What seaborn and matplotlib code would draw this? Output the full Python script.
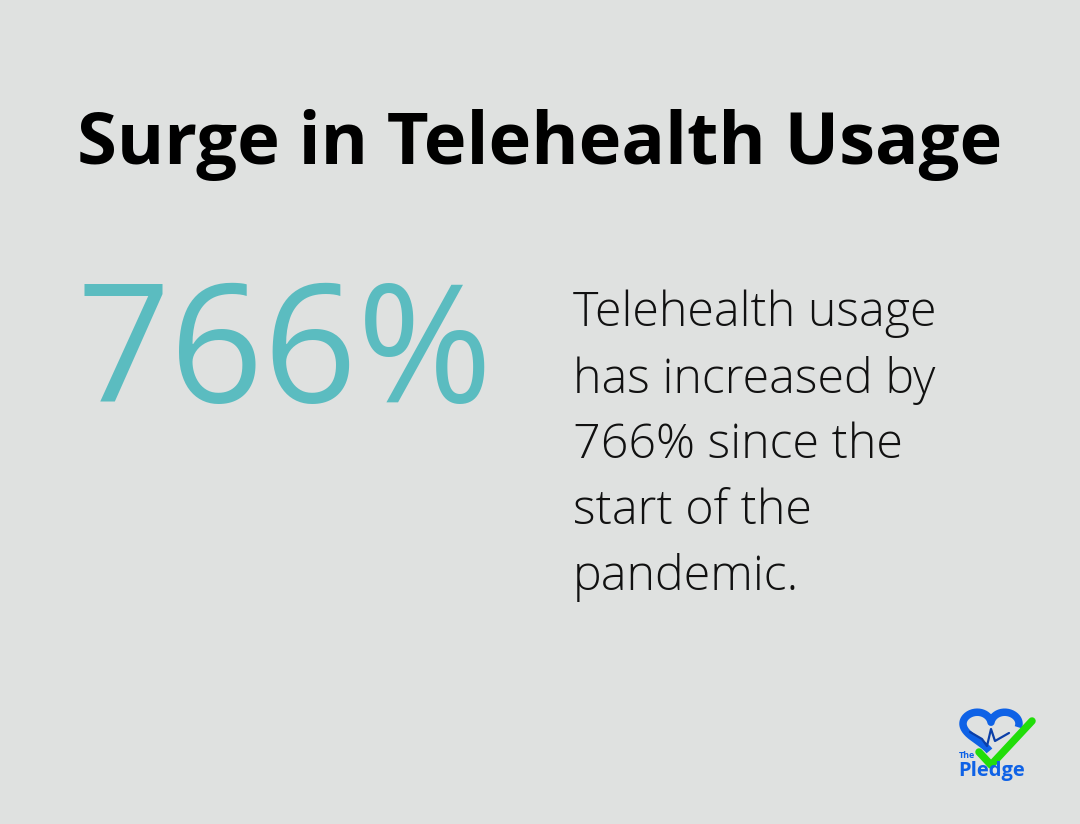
import matplotlib
matplotlib.use("Agg")
import matplotlib.pyplot as plt
import numpy as np
import seaborn as sns

BG = "#dfe1e0"
TEAL = "#5bbcc0"
BLUE = "#0f62e6"
GREEN = "#22dd0a"

title_text = "Surge in Telehealth Usage"
big_number = "766%"
body_lines = ["Telehealth usage", "has increased by", "766% since the", "start of the", "pandemic."]

sns.set_theme(style="white")
plt.rcParams["font.family"] = ["Open Sans", "DejaVu Sans"]

fig = plt.figure(figsize=(10.8, 8.24), dpi=100, facecolor=BG)
ax = fig.add_axes([0, 0, 1, 1])
ax.set_xlim(0, 1080)
ax.set_ylim(824, 0)
ax.axis("off")

ax.text(540, 145, title_text, ha="center", va="center", fontsize=52, fontweight="bold", color="black")
ax.text(285, 359, big_number, ha="center", va="center", fontsize=118, fontweight="normal", color=TEAL)

for i, line in enumerate(body_lines):
    ax.text(573, 314 + i * 66, line, ha="left", va="center", fontsize=34.8, fontweight="light", color="#111111")

# logo, heart is left open where the check crosses it
t = np.linspace(-2.75, 1.7, 200)
hx = 991 + 1.75 * 16 * np.sin(t) ** 3
hy = 729.5 - 1.45 * (13 * np.cos(t) - 5 * np.cos(2 * t) - 2 * np.cos(3 * t) - np.cos(4 * t))
ax.plot(hx, hy, color=BLUE, lw=5.4, solid_capstyle="butt")
ax.plot([970, 982, 987, 991, 995, 1009], [732, 739, 746, 729, 741, 733], color="#0b3fa8", lw=1.6)
ax.plot([979, 991, 1032], [752, 765, 721], color=GREEN, lw=5.4, solid_capstyle="round")
ax.text(959, 756, "The", fontsize=6.5, fontweight="bold", color=BLUE, va="center")
ax.text(958, 771, "Pledge", fontsize=14.5, fontweight="bold", color=BLUE, va="center")

fig.savefig("out.png", dpi=100, facecolor=BG)
